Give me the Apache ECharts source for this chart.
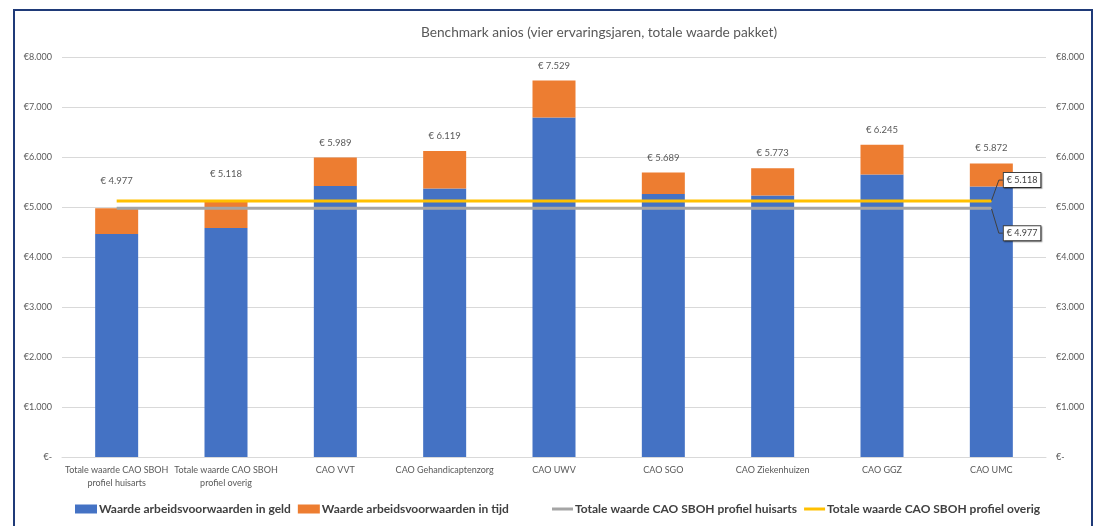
<!DOCTYPE html>
<html><head><meta charset="utf-8">
<script src="https://cdn.jsdelivr.net/npm/echarts@6/dist/echarts.min.js"></script>
<style>html,body{margin:0;padding:0;background:#fff}#c{width:1098px;height:526px}</style>
</head><body><div id="c"></div>
<script>
const categories = ['Totale waarde CAO SBOH\nprofiel huisarts', 'Totale waarde CAO SBOH\nprofiel overig', 'CAO VVT', 'CAO Gehandicaptenzorg', 'CAO UWV', 'CAO SGO', 'CAO Ziekenhuizen', 'CAO GGZ', 'CAO UMC'];
const totals = [4977, 5118, 5989, 6119, 7529, 5689, 5773, 6245, 5872];
const geld = [4460, 4580, 5420, 5370, 6790, 5260, 5230, 5650, 5410];
const tijd = [517, 538, 569, 749, 739, 429, 543, 595, 462];
const huisartsLine = [4977, 4977, 4977, 4977, 4977, 4977, 4977, 4977, 4977];
const overigLine = [5118, 5118, 5118, 5118, 5118, 5118, 5118, 5118, 5118];
const yTickLabels = ['€-', '€1.000', '€2.000', '€3.000', '€4.000', '€5.000', '€6.000', '€7.000', '€8.000'];
const seriesNames = ['Waarde arbeidsvoorwaarden in geld', 'Waarde arbeidsvoorwaarden in tijd', 'Totale waarde CAO SBOH profiel huisarts', 'Totale waarde CAO SBOH profiel overig'];
const totalLabelDistance = [22, 22, 10, 10, 10, 10, 10, 10, 10];

const FONT = 'Lato, "Open Sans", sans-serif';
const fmtEuro = v => '€ ' + v.toLocaleString('nl-NL');

function endLabelData(arr) {
  return arr.map((v, i) => i === arr.length - 1
    ? { value: v, symbol: 'circle', symbolSize: 1, label: { show: true } }
    : v);
}

const lineLabel = {
  show: false, position: 'right', distance: 12,
  formatter: p => fmtEuro(p.value),
  backgroundColor: '#fff', borderColor: '#404040', borderWidth: 1,
  padding: [3, 3, 2, 3], color: '#404040', fontSize: 9, fontFamily: FONT,
  shadowColor: 'rgba(0,0,0,0.35)', shadowOffsetX: 1, shadowOffsetY: 1, shadowBlur: 1
};
const legendText = { fontSize: 12, fontWeight: 'bold', color: '#404040', fontFamily: FONT, padding: [0, 0, 0, -3] };

const chart = echarts.init(document.getElementById('c'));
chart.setOption({
  animation: false,
  backgroundColor: '#fff',
  textStyle: { fontFamily: FONT },
  title: {
    text: 'Benchmark anios (vier ervaringsjaren, totale waarde pakket)',
    left: 416, top: 21,
    textStyle: { fontSize: 13.7, fontWeight: 'normal', color: '#595959', fontFamily: FONT }
  },
  graphic: [{
    type: 'rect', silent: true, z: 100,
    shape: { x: 14, y: 10, width: 1078, height: 540 },
    style: { fill: null, stroke: '#1F3A78', lineWidth: 2 }
  }],
  legend: [{
    left: 75, top: 503, padding: 0, itemWidth: 22, itemHeight: 9, itemGap: 7,
    data: [{ name: seriesNames[0], icon: 'rect' }, { name: seriesNames[1], icon: 'rect' }],
    textStyle: legendText
  }, {
    left: 552, top: 503, padding: 0, itemWidth: 21, itemHeight: 3, itemGap: 7,
    data: [{ name: seriesNames[2], icon: 'rect' }, { name: seriesNames[3], icon: 'rect' }],
    textStyle: legendText
  }],
  grid: { left: 62, right: 52, top: 57, bottom: 69, containLabel: false },
  xAxis: {
    type: 'category', data: categories,
    axisLine: { lineStyle: { color: '#d9d9d9', width: 1 } },
    axisTick: { show: false },
    axisLabel: { interval: 0, color: '#595959', fontSize: 9, lineHeight: 13, margin: 7, fontFamily: FONT }
  },
  yAxis: [0, 1].map(i => ({
    type: 'value', min: 0, max: 8000, interval: 1000,
    position: i === 0 ? 'left' : 'right',
    axisLine: { show: false }, axisTick: { show: false },
    splitLine: { show: i === 0, lineStyle: { color: '#d9d9d9', width: 1 } },
    axisLabel: {
      color: '#595959', fontSize: 9, margin: 10, fontFamily: FONT,
      formatter: v => yTickLabels[Math.round(v / 1000)]
    }
  })),
  series: [
    {
      name: seriesNames[0], type: 'bar', stack: 'tot', data: geld, barWidth: 43,
      itemStyle: { color: '#4472C4' }
    },
    {
      name: seriesNames[1], type: 'bar', stack: 'tot', barWidth: 43,
      data: tijd.map((v, i) => ({ value: v, label: { distance: totalLabelDistance[i] } })),
      itemStyle: { color: '#ED7D31' },
      label: {
        show: true, position: 'top', color: '#595959', fontSize: 9.5, fontFamily: FONT,
        formatter: p => fmtEuro(totals[p.dataIndex])
      }
    },
    {
      name: seriesNames[2], type: 'line', data: endLabelData(huisartsLine),
      symbol: 'none', showSymbol: true, z: 5,
      lineStyle: { color: '#A5A5A5', width: 3 }, itemStyle: { color: '#A5A5A5' },
      label: lineLabel,
      labelLayout: { dy: 25 },
      labelLine: { show: true, length2: 4, lineStyle: { color: '#404040', width: 1 } }
    },
    {
      name: seriesNames[3], type: 'line', data: endLabelData(overigLine),
      symbol: 'none', showSymbol: true, z: 5,
      lineStyle: { color: '#FFC000', width: 3 }, itemStyle: { color: '#FFC000' },
      label: lineLabel,
      labelLayout: { dy: -21 },
      labelLine: { show: true, length2: 4, lineStyle: { color: '#404040', width: 1 } }
    }
  ]
});
</script></body></html>
